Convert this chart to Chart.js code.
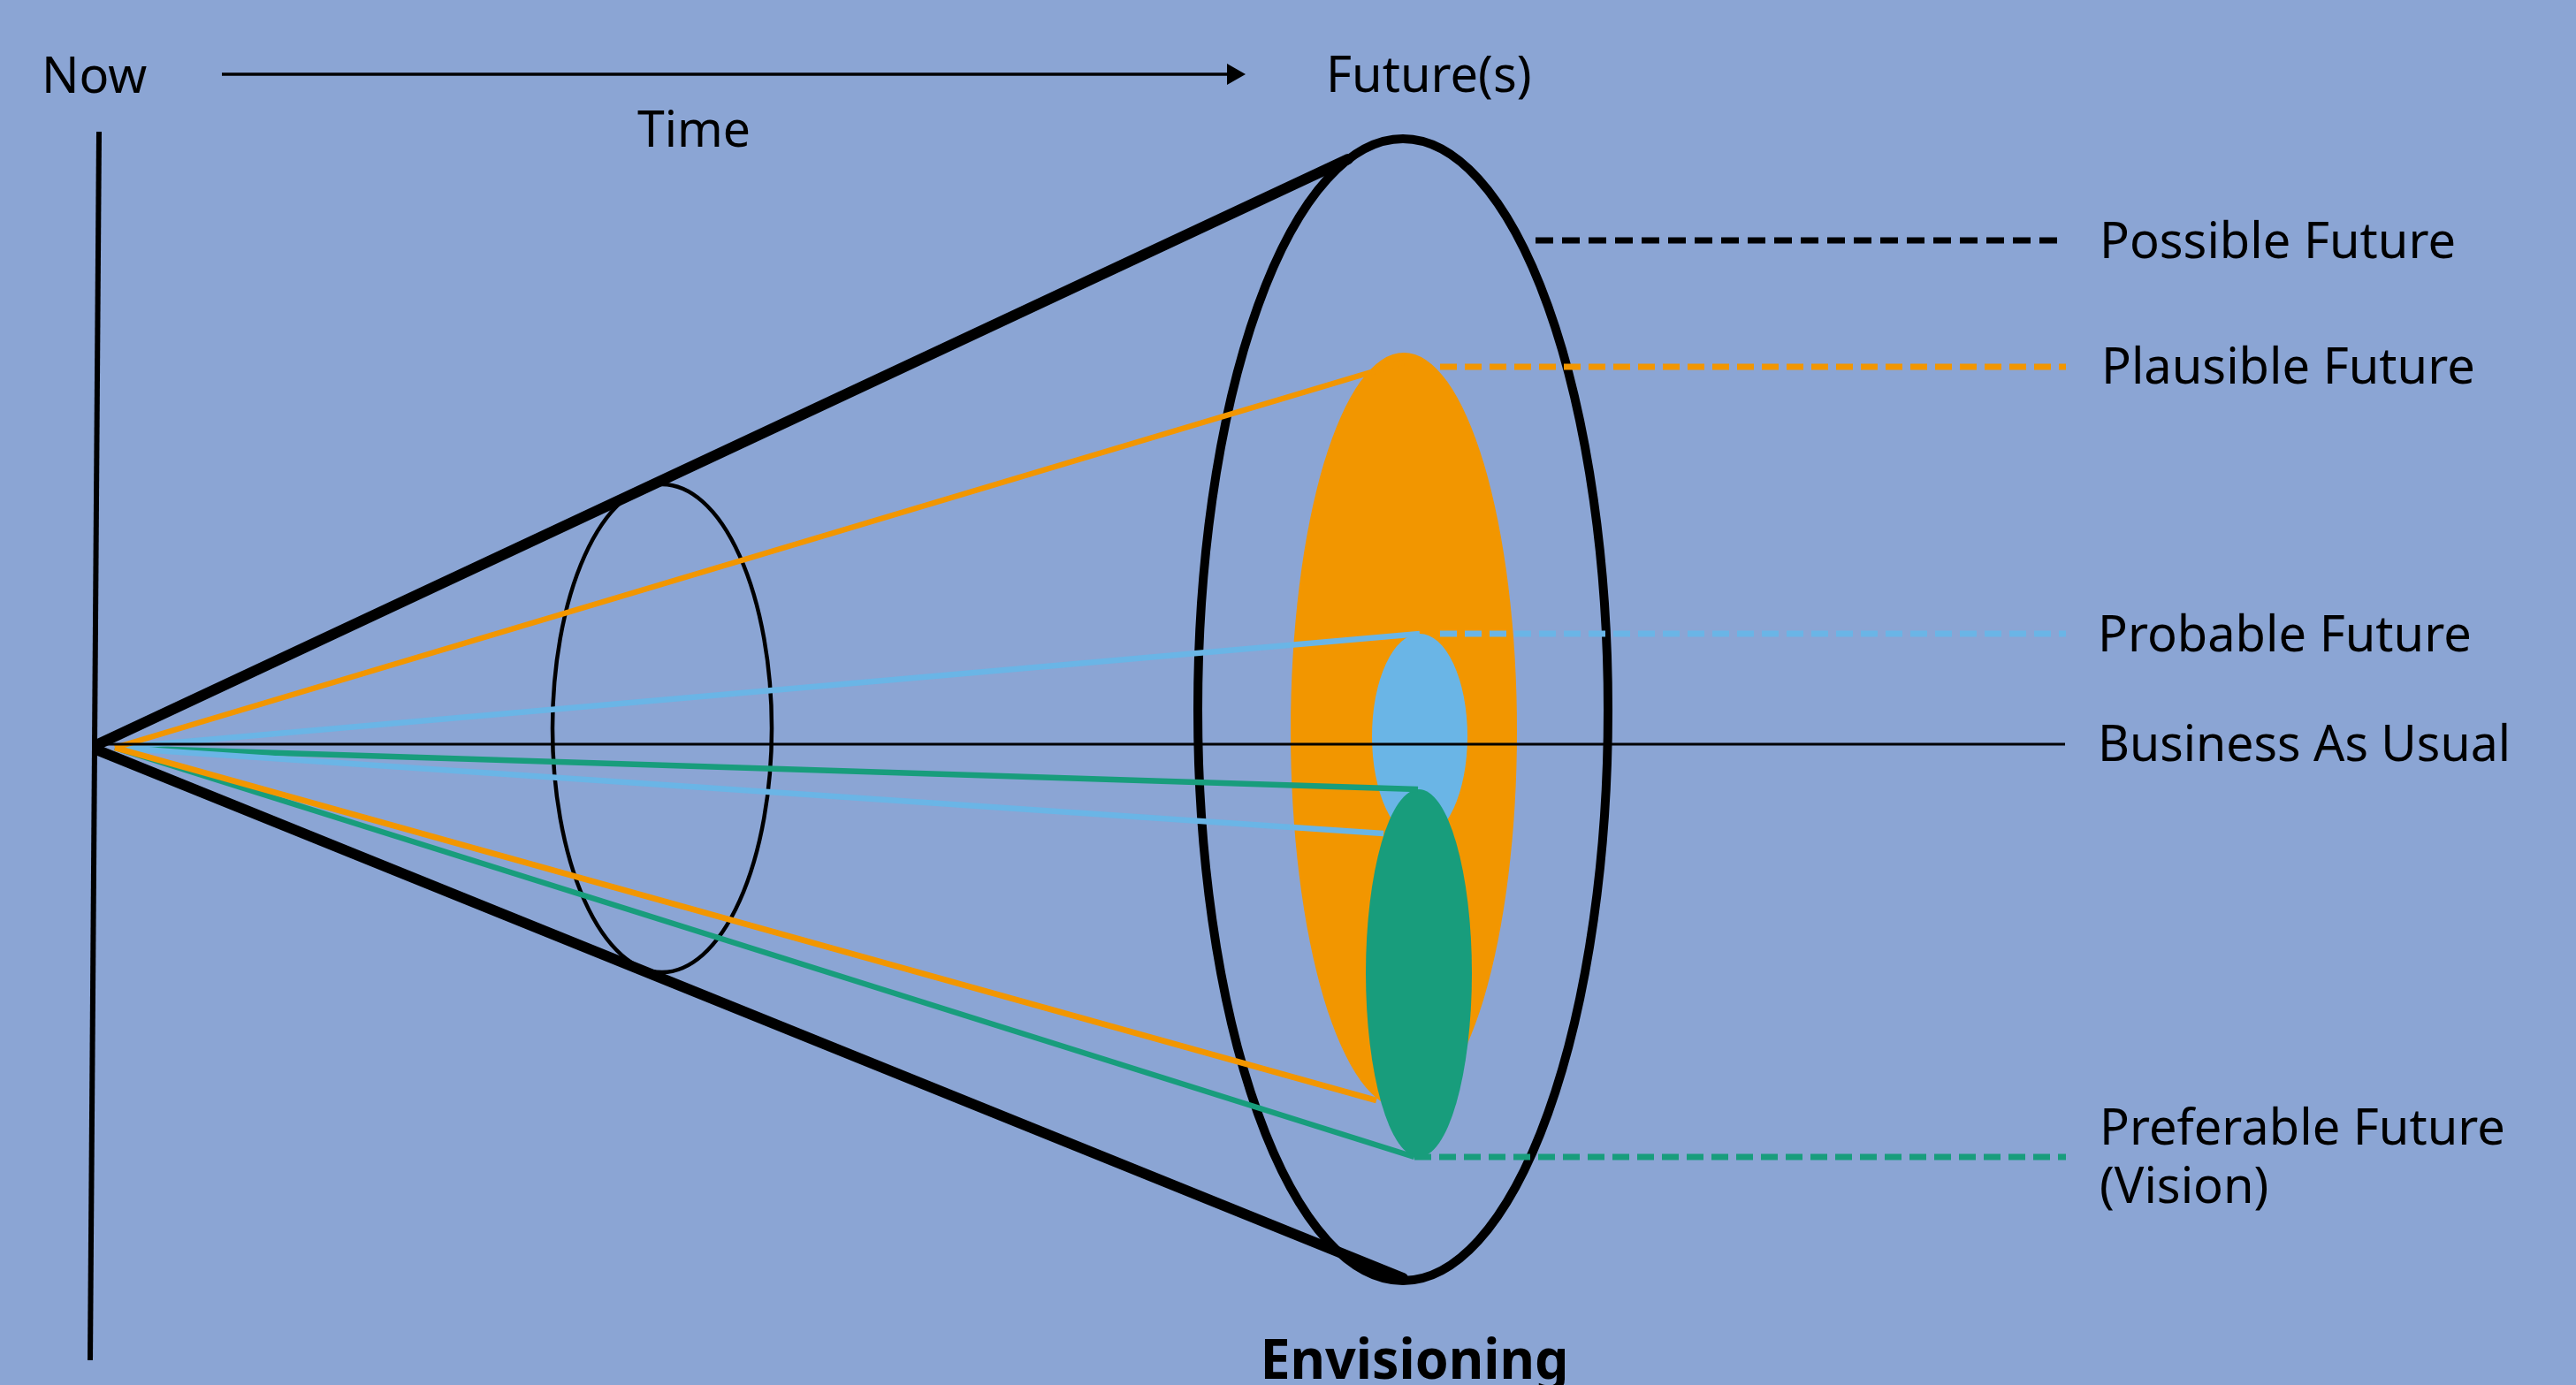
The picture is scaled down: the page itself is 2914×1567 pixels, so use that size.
<!DOCTYPE html>
<html>
<head>
<meta charset="utf-8">
<title>Futures Cone</title>
<script src="https://cdn.jsdelivr.net/npm/chart.js@4"></script>
<style>
  html, body { margin: 0; padding: 0; overflow: hidden; background: #8BA5D4; }
  #wrap { position: relative; width: 100vw; height: 100vh; }
</style>
</head>
<body>
<div id="wrap"><canvas id="cone"></canvas></div>
<script>
// ======= Data (diagram units, y grows downward) =======
const W = 2914, H = 1567;

// time axis on top
const timeArrowX = [251, 1395];
const timeArrowY = [84, 84];
// "now" vertical line
const nowLineX = [112, 102];
const nowLineY = [149, 1539];
// business-as-usual line
const bauX = [112, 2336];
const bauY = [842, 842];
// outer cone edges (vertex -> big ellipse)
const coneUpperX = [111, 1525];
const coneUpperY = [842, 180];
const coneLowerX = [111, 1587];
const coneLowerY = [849, 1446];

// coloured rays from "now" to each future
const rayOrigin = [130, 846];
const rayNames = ['Plausible top', 'Plausible bottom', 'Probable top', 'Probable bottom', 'Preferable top', 'Preferable bottom'];
const rayEndX = [1588, 1557, 1606, 1565, 1604, 1600];
const rayEndY = [410, 1245, 717, 943, 893, 1309];

// dashed leaders to the labels
const leaderNames = ['Possible', 'Plausible', 'Probable', 'Preferable'];
const leaderStartX = [1737, 1629, 1629, 1600];
const leaderEndX = [2334, 2337, 2337, 2337];
const leaderY = [272, 415, 717, 1309];

// ellipses: outer cone mouth, middle cross-section, and the three futures
const ellipseNames = ['Possible', 'Section', 'Plausible', 'Probable', 'Preferable'];
const ellipseCx = [1587, 749, 1588, 1606, 1605];
const ellipseCy = [803, 824, 827, 833, 1101];
const ellipseRx = [232, 124, 128, 54, 60];
const ellipseRy = [646, 276, 428, 116, 208];

// labels
const labelText = ['Now', 'Time', 'Future(s)', 'Possible Future', 'Plausible Future', 'Probable Future', 'Business As Usual', 'Preferable Future', '(Vision)', 'Envisioning'];
const labelX = [47, 721, 1500, 2375, 2377, 2373, 2373, 2375, 2375, 1600];
const labelY = [105, 166, 104, 292, 434, 737, 861, 1295, 1361, 1560];
const labelW = [124, 128, 238, 404, 433, 434, 467, 472, 201, 349];

// ======= Styles =======
const BG = '#8BA5D4';
const ORANGE = '#F29600';
const BLUE = '#6AB5E6';
const GREEN = '#189D7C';
const rayColors = [ORANGE, ORANGE, BLUE, BLUE, GREEN, GREEN];
const leaderColors = ['#000000', ORANGE, BLUE, GREEN];
const ellipseStyle = [
  { stroke: '#000', lw: 10 },
  { stroke: '#000', lw: 4.5 },
  { fill: ORANGE },
  { fill: BLUE },
  { fill: GREEN }
];
const FONT = "'Noto Sans', 'Open Sans', sans-serif";

// ======= Helpers =======
const pts = (xs, ys) => xs.map((x, i) => ({ x, y: ys[i] }));
function seg(label, xs, ys, color, width, extra) {
  return Object.assign({
    label, data: pts(xs, ys), showLine: true, borderColor: color,
    backgroundColor: color, borderWidth: width, pointRadius: 0, fill: false
  }, extra || {});
}

const datasets = [];
datasets.push(seg('now', nowLineX, nowLineY, '#000', 6));
datasets.push(seg('time', timeArrowX, timeArrowY, '#000', 3.5, {
  pointRadius: [0, 14], pointStyle: 'triangle', rotation: 90, pointBorderWidth: 0
}));
datasets.push(seg('bau', bauX, bauY, '#000', 3));
rayNames.forEach((n, i) => {
  datasets.push(seg(n, [rayOrigin[0], rayEndX[i]], [rayOrigin[1], rayEndY[i]], rayColors[i], 6.5));
});
leaderNames.forEach((n, i) => {
  datasets.push(seg(n + ' leader', [leaderStartX[i], leaderEndX[i]], [leaderY[i], leaderY[i]], leaderColors[i], 7, {
    borderDash: i === 0 ? [20, 10] : [19, 9]
  }));
});
datasets.push(seg('cone upper', coneUpperX, coneUpperY, '#000', 12, { borderCapStyle: 'round' }));
datasets.push(seg('cone lower', coneLowerX, coneLowerY, '#000', 12, { borderCapStyle: 'round' }));

// ======= Plugins =======
const background = {
  id: 'background',
  beforeDraw(chart) {
    const c = chart.ctx;
    c.save();
    c.fillStyle = BG;
    c.fillRect(0, 0, chart.width, chart.height);
    c.restore();
  }
};

const ellipses = {
  id: 'ellipses',
  beforeDatasetsDraw(chart) {
    const { ctx, scales: { x, y } } = chart;
    ctx.save();
    ellipseNames.forEach((n, i) => {
      const px = x.getPixelForValue(ellipseCx[i]);
      const py = y.getPixelForValue(ellipseCy[i]);
      const rx = Math.abs(x.getPixelForValue(ellipseCx[i] + ellipseRx[i]) - px);
      const ry = Math.abs(y.getPixelForValue(ellipseCy[i] + ellipseRy[i]) - py);
      const st = ellipseStyle[i];
      ctx.beginPath();
      ctx.ellipse(px, py, rx, ry, 0, 0, Math.PI * 2);
      if (st.fill) { ctx.fillStyle = st.fill; ctx.fill(); }
      if (st.stroke) { ctx.strokeStyle = st.stroke; ctx.lineWidth = st.lw; ctx.stroke(); }
    });
    ctx.restore();
  }
};

const labels = {
  id: 'labels',
  afterDatasetsDraw(chart) {
    const { ctx, scales: { x, y } } = chart;
    ctx.save();
    ctx.fillStyle = '#000';
    ctx.textBaseline = 'alphabetic';
    labelText.forEach((t, i) => {
      const last = i === labelText.length - 1;
      ctx.font = last ? `bold 62px ${FONT}` : `56px ${FONT}`;
      ctx.textAlign = last ? 'center' : 'left';
      ctx.fillText(t, x.getPixelForValue(labelX[i]), y.getPixelForValue(labelY[i]), labelW[i]);
    });
    ctx.restore();
  }
};

// ======= Chart =======
new Chart(document.getElementById('cone'), {
  type: 'scatter',
  data: { datasets },
  options: {
    animation: false,
    responsive: true,
    maintainAspectRatio: false,
    layout: { padding: 0, autoPadding: false },
    clip: false,
    events: [],
    plugins: { legend: { display: false }, tooltip: { enabled: false } },
    scales: {
      x: { type: 'linear', min: 0, max: W, display: false },
      y: { type: 'linear', min: 0, max: H, reverse: true, display: false }
    }
  },
  plugins: [background, ellipses, labels]
});
</script>
</body>
</html>
